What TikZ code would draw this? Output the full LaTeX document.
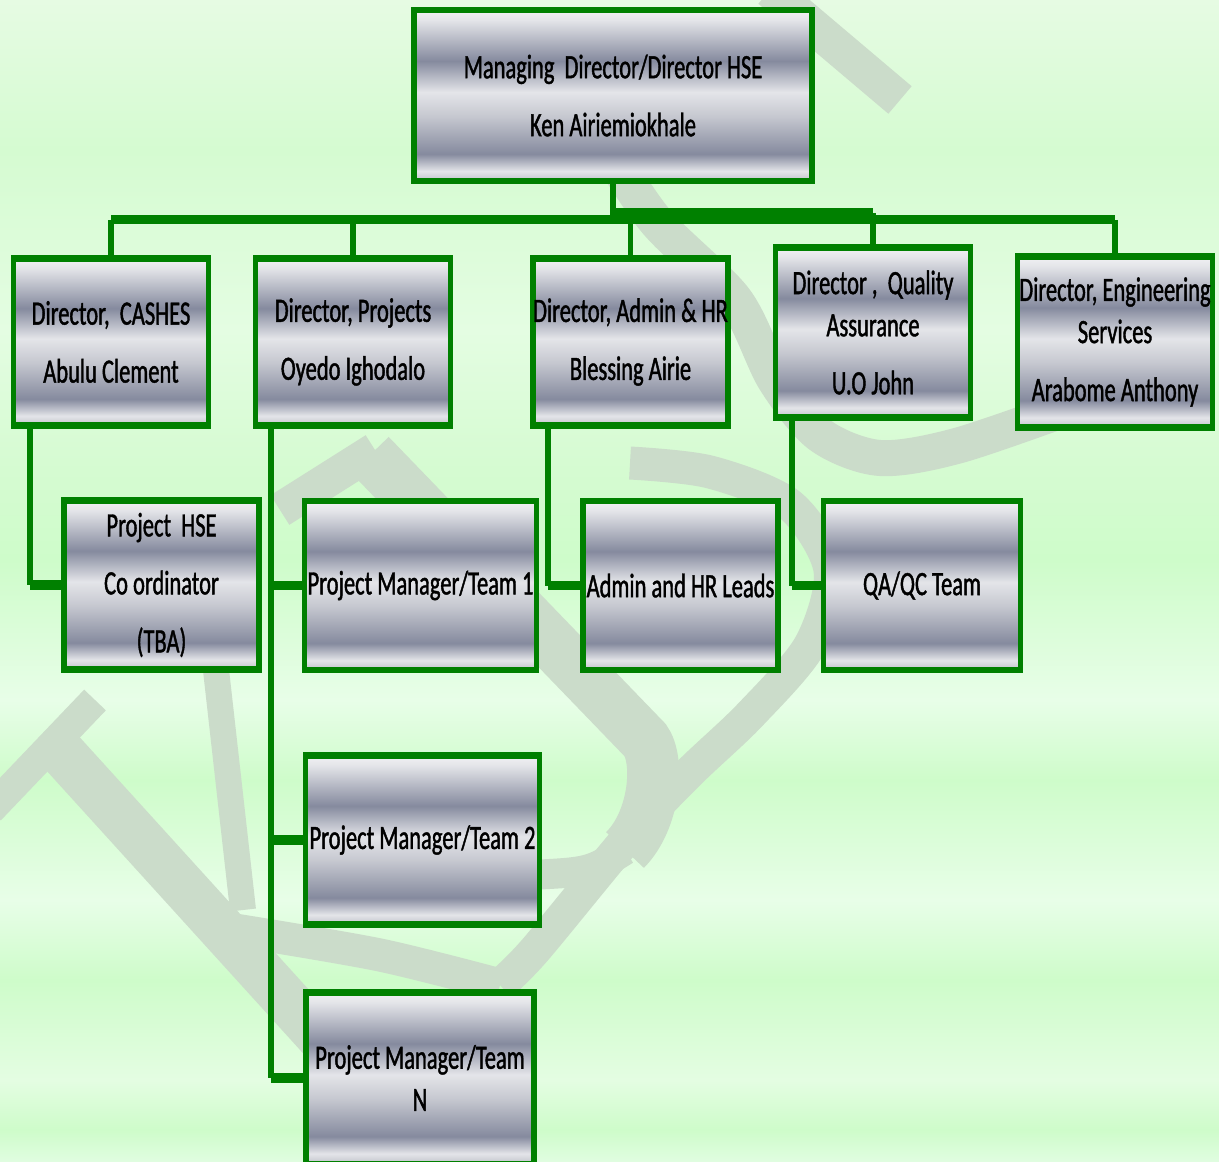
\documentclass[tikz,border=0pt]{standalone}
\usepackage{fontspec}
\usepackage{xcolor}
\usepackage{tikz}
\newfontfamily\boxfont{Carlito}[FakeStretch=0.66,FakeBold=1.2]

\definecolor{linegreen}{RGB}{0,128,0}
\definecolor{wmgrey}{HTML}{CBDCCA}
% metal fill of the boxes
\definecolor{mtop}{HTML}{F2F2F4}
\definecolor{mlite}{HTML}{E4E5E9}
\definecolor{mdark}{HTML}{858A9E}
\definecolor{mmid}{HTML}{C6C8D0}
\definecolor{mbot}{HTML}{BFC1C9}
\pgfdeclareverticalshading{metal}{100bp}{color(0bp)=(mbot); color(25bp)=(mbot); color(28bp)=(mlite); color(33bp)=(mdark); color(44bp)=(mmid); color(51bp)=(mlite); color(60bp)=(mdark); color(72bp)=(mlite); color(75bp)=(mtop); color(100bp)=(mtop)}
% page background
\definecolor{bgT}{HTML}{E6FBE3}
\definecolor{bgGa}{HTML}{D5FBD1}
\definecolor{bgLa}{HTML}{E4FDE2}
\definecolor{bgG}{HTML}{CEFCCA}
\definecolor{bgW}{HTML}{E8FEE8}
\definecolor{bgL}{HTML}{E0FDE0}
\pgfdeclareverticalshading{greenbg}{100bp}{color(0bp)=(bgL); color(25bp)=(bgL); color(26.34bp)=(bgG); color(28.49bp)=(bgLa); color(32.8bp)=(bgG); color(36.24bp)=(bgW); color(41.41bp)=(bgG); color(44.85bp)=(bgW); color(50.88bp)=(bgG); color(54.76bp)=(bgGa); color(60.79bp)=(bgLa); color(68.54bp)=(bgGa); color(75bp)=(bgT); color(100bp)=(bgT)}

\tikzset{
  post/.style={draw=linegreen, line width=1.6pt, shading=metal, minimum width=1.95cm, minimum height=1.68cm,
    inner xsep=0pt, inner ysep=2pt, align=center, font=\boxfont\fontsize{9.7}{12}\selectfont,
    path picture={
      \fill[linegreen] (path picture bounding box.north west) rectangle ([yshift=-1pt]path picture bounding box.north east);
      \fill[linegreen] (path picture bounding box.south west) rectangle ([yshift=1pt]path picture bounding box.south east);
    }},
  link/.style={draw=linegreen, line width=1.6pt},
  hlink/.style={draw=linegreen, line width=2.6pt},
  wm/.style={draw=wmgrey, line width=#1cm}
}

\begin{document}
\begin{tikzpicture}
	\useasboundingbox (0,0) rectangle (12.19,-11.61);
	\clip (0,0) rectangle (12.19,-11.61);
	\shade[shading=greenbg] (0,0) rectangle (12.19,-11.61);
	% watermark
	\draw[wm=0.36] (7.7,0.1) -- (9.0,-1.0);
	\draw[wm=0.36] plot[smooth] coordinates {(5.95,-1.3) (6.55,-2.2) (7.35,-3.0) (7.75,-3.8) (8.2,-4.35) (8.8,-4.58) (9.6,-4.45) (10.9,-4.0)};
	\draw[wm=0.33] plot[smooth] coordinates {(6.3,-4.63) (7.1,-4.72) (7.9,-5.05) (8.3,-5.7) (8.1,-6.45) (7.5,-7.15) (6.9,-7.72) (6.3,-8.35) (5.35,-9.5) (5.0,-9.85)};
	\draw[wm=0.33] plot[smooth] coordinates {(5.0,-9.85) (3.8,-9.55) (2.35,-9.3)};
	\draw[wm=0.52] (3.7,-4.55) -- (6.45,-7.4) .. controls (6.6,-7.6) and (6.55,-8.2) .. (6.25,-8.5);
	\draw[wm=0.3] (6.25,-8.5) .. controls (5.9,-8.72) .. (5.3,-8.75);
	\draw[wm=0.35] (2.8,-5.1) -- (3.75,-4.5);
	\draw[wm=0.3] (-0.1,-8.1) -- (0.95,-7.0);
	\draw[wm=0.47] (0.55,-7.45) -- (3.5,-10.7);
	\draw[wm=0.26] (2.16,-6.7) -- (2.43,-9.1);

	\node[post, minimum width=3.98cm, minimum height=1.72cm] (md) at (6.13,-0.955) {Managing\ \ Director/Director HSE\\[4.5pt]Ken Airiemiokhale};
	\node[post] (cashes) at (1.11,-3.42) {Director,\ \ CASHES\\[4.5pt]Abulu Clement};
	\node[post] (proj) at (3.53,-3.42) {Director, Projects\\[4.5pt]Oyedo Ighodalo};
	\node[post] (admin) at (6.305,-3.42) {Director, Admin \& HR\\[4.5pt]Blessing Airie};
	\node[post, minimum height=1.71cm] (qual) at (8.73,-3.325) {Director ,\ \ Quality\\Assurance\\[4.5pt]U.O John};
	\node[post, minimum height=1.72cm] (eng) at (11.15,-3.42) {Director, Engineering\\Services\\[4.5pt]Arabome Anthony};
	\node[post, minimum height=1.70cm] (hse) at (1.615,-5.85) {Project\ \ HSE\\[4.5pt]Co ordinator\\[4.5pt](TBA)};
	\node[post, minimum width=2.32cm, minimum height=1.70cm] (team1) at (4.205,-5.855) {Project Manager/Team 1};
	\node[post, minimum height=1.70cm] (leads) at (6.805,-5.855) {Admin and HR Leads};
	\node[post, minimum width=1.97cm, minimum height=1.70cm] (qaqc) at (9.22,-5.855) {QA/QC Team};
	\node[post, minimum width=2.34cm, minimum height=1.70cm] (team2) at (4.225,-8.40) {Project Manager/Team 2};
	\node[post, minimum width=2.28cm, minimum height=1.72cm] (teamn) at (4.20,-10.78) {Project Manager/Team\\N};

	% bus under the managing director
	\coordinate (bus) at ([yshift=-0.355cm]md.south);
	\coordinate (busq) at ([yshift=-0.285cm]md.south);
	\draw[link] (md.south) -- (bus);
	\draw[hlink] (bus -| cashes.north) -- (bus -| eng.north);
	\draw[hlink] (busq) -- (busq -| qual.north);
	\foreach \d in {cashes,proj,admin,eng}
		\draw[link] (bus -| \d.north) -- (\d.north);
	\draw[link] (busq -| qual.north) -- (qual.north);

	% elbows down to the teams
	\coordinate (c1) at ([xshift=0.195cm]cashes.south west |- hse.west);
	\draw[link] ([xshift=0.195cm]cashes.south west) -- (c1);
	\draw[hlink] (c1) -- (hse.west);
	\coordinate (cn) at ([xshift=0.18cm]proj.south west |- teamn.west);
	\draw[link] ([xshift=0.18cm]proj.south west) -- (cn);
	\foreach \t in {team1,team2,teamn}
		\draw[hlink] (cn |- \t.west) -- (\t.west);
	\coordinate (c3) at ([xshift=0.18cm]admin.south west |- leads.west);
	\draw[link] ([xshift=0.18cm]admin.south west) -- (c3);
	\draw[hlink] (c3) -- (leads.west);
	\coordinate (c4) at ([xshift=0.19cm]qual.south west |- qaqc.west);
	\draw[link] ([xshift=0.19cm]qual.south west) -- (c4);
	\draw[hlink] (c4) -- (qaqc.west);
\end{tikzpicture}
\end{document}
